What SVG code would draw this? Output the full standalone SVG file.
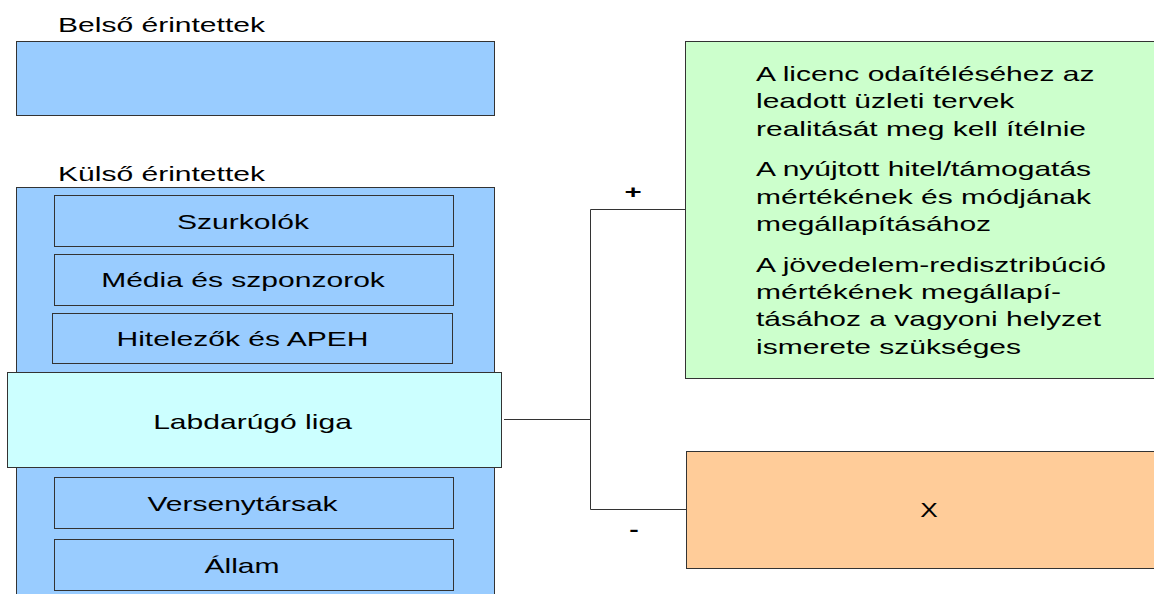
<svg xmlns="http://www.w3.org/2000/svg" width="1154" height="594" viewBox="0 0 1154 594">
<style>
.t{font-family:"Liberation Sans",Arial,sans-serif;font-size:21px;fill:#000}
.g{font-family:"Liberation Sans",Arial,sans-serif;font-size:20px;fill:#000}
.c{text-anchor:middle}
.b{font-weight:bold;font-size:19px}
.box{stroke:#333;stroke-width:1}
.blue{fill:#99ccff}
.cyan{fill:#ccffff}
.green{fill:#ccffcc}
.orange{fill:#ffcc99}
.ln{stroke:#333;stroke-width:1;fill:none}
</style>
<rect width="1154" height="594" fill="#fff"/>
<g id="belso-label"><text class="t" transform="translate(58,32) scale(1.43,1)">Belső érintettek</text></g>
<g id="belso"><rect class="box blue" x="16.5" y="41.5" width="478" height="74"/></g>
<g id="kulso-label"><text class="t" transform="translate(58,181) scale(1.43,1)">Külső érintettek</text></g>
<g id="kulso"><rect class="box blue" x="16.5" y="187.5" width="478" height="420"/></g>
<g id="szurkolok"><rect class="box blue" x="54.5" y="195.5" width="399" height="51"/><text class="t c" transform="translate(243,228.5) scale(1.43,1)">Szurkolók</text></g>
<g id="media"><rect class="box blue" x="54.5" y="254.5" width="399" height="51"/><text class="t c" transform="translate(243,287) scale(1.43,1)">Média és szponzorok</text></g>
<g id="hitelezok"><rect class="box blue" x="52.5" y="313.5" width="400" height="50"/><text class="t c" transform="translate(242.5,346) scale(1.43,1)">Hitelezők és APEH</text></g>
<g id="liga"><rect class="box cyan" x="7.5" y="372.5" width="494" height="95"/><text class="t c" transform="translate(252.5,429) scale(1.43,1)">Labdarúgó liga</text></g>
<g id="versenytarsak"><rect class="box blue" x="54.5" y="477.5" width="399" height="51"/><text class="t c" transform="translate(242.5,511) scale(1.43,1)">Versenytársak</text></g>
<g id="allam"><rect class="box blue" x="54.5" y="539.5" width="399" height="51"/><text class="t c" transform="translate(242,572.5) scale(1.43,1)">Állam</text></g>
<g id="connectors">
<path class="ln" d="M504 419.5H590.5M590.5 209.5V509.5M590.5 209.5H686M590.5 509.5H686"/>
<text class="t c b" transform="translate(633,198) scale(1.55,1)">+</text>
<text class="t c b" transform="translate(634,536) scale(1.5,1)">-</text>
</g>
<g id="plus-box"><rect class="box green" x="685.5" y="41.5" width="480" height="337"/>
<text class="g" transform="translate(756,81) scale(1.5,1)">A licenc odaítéléséhez az</text>
<text class="g" transform="translate(756,108.3) scale(1.5,1)">leadott üzleti tervek</text>
<text class="g" transform="translate(756,135.6) scale(1.5,1)">realitását meg kell ítélnie</text>
<text class="g" transform="translate(756,176.3) scale(1.5,1)">A nyújtott hitel/támogatás</text>
<text class="g" transform="translate(756,203.6) scale(1.5,1)">mértékének és módjának</text>
<text class="g" transform="translate(756,230.9) scale(1.5,1)">megállapításához</text>
<text class="g" transform="translate(756,271.6) scale(1.5,1)">A jövedelem-redisztribúció</text>
<text class="g" transform="translate(756,298.9) scale(1.5,1)">mértékének megállapí-</text>
<text class="g" transform="translate(756,326.2) scale(1.5,1)">tásához a vagyoni helyzet</text>
<text class="g" transform="translate(756,353.5) scale(1.5,1)">ismerete szükséges</text>
</g>
<g id="minus-box"><rect class="box orange" x="686.5" y="451.5" width="480" height="117"/><text class="t c" transform="translate(929,517) scale(1.25,1)">X</text></g>
</svg>
